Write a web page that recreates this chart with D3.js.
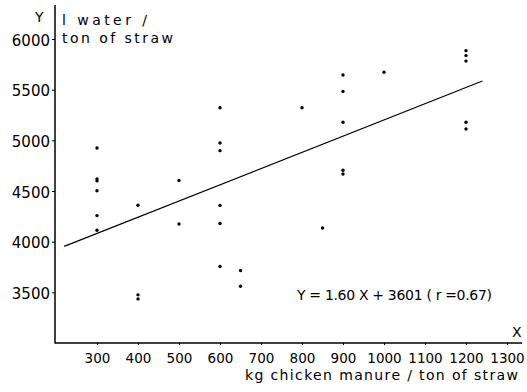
<!DOCTYPE html>
<html><head><meta charset="utf-8">
<script src="https://cdn.jsdelivr.net/npm/d3@7"></script>
<style>
html,body{margin:0;padding:0;background:#fff;}
text{font-family:"DejaVu Sans",sans-serif;fill:#000;}
</style></head>
<body>
<svg id="c" width="527" height="392"></svg>
<script>
// data: manure dose (kg / ton straw) and water use (l / ton straw)
const manureX = [300,300,300,300,300,300, 400,400,400, 500,500, 600,600,600,600,600,600, 650,650, 800, 850, 900,900,900,900,900, 1000, 1200,1200,1200,1200,1200];
const waterY  = [4925,4620,4600,4503,4257,4112, 4360,3475,3435, 4603,4175, 5322,4973,4898,4358,4180,3755, 3715,3560, 5322, 4135, 5645,5483,5178,4705,4668, 5672, 5885,5836,5782,5178,5112];
const xTicks = [300,400,500,600,700,800,900,1000,1100,1200,1300];
const yTicks = [3500,4000,4500,5000,5500,6000];
const fitSlope = 1.60, fitIntercept = 3601, fitR = 0.67;
const fitRange = [220, 1240];

const svg = d3.select("#c");
const x = d3.scaleLinear().domain([200,1300]).range([56,507]);
const y = d3.scaleLinear().domain([3000,6000]).range([343,39]);
const x0 = 55, y0 = 343;

// axes lines
svg.append("line").attr("x1",x0).attr("x2",x0).attr("y1",5).attr("y2",y0+0.5)
  .attr("stroke","#000").attr("stroke-width",1.5);
svg.append("line").attr("x1",x0).attr("x2",522).attr("y1",y0).attr("y2",y0)
  .attr("stroke","#000").attr("stroke-width",1.5);

// y ticks
const yAxis = d3.axisLeft(y).tickValues(yTicks).tickSize(3).tickPadding(2).tickFormat(d3.format("d"));
const gy = svg.append("g").attr("transform",`translate(${x0},0)`).call(yAxis);
gy.select(".domain").remove();
gy.selectAll("text").style("font-size","15px").style("font-family","DejaVu Sans, sans-serif").attr("dy","0.4em");

// x ticks
const xAxis = d3.axisBottom(x).tickValues(xTicks).tickSize(2).tickPadding(8).tickFormat(d3.format("d"));
const gx = svg.append("g").attr("transform",`translate(0,${y0})`).call(xAxis);
gx.select(".domain").remove();
gx.selectAll("text").style("font-size","13.5px").style("font-family","DejaVu Sans, sans-serif");

// regression line
const line = d3.line().x(d=>x(d)).y(d=>y(fitSlope*d+fitIntercept));
svg.append("path").attr("d",line(fitRange)).attr("fill","none").attr("stroke","#000").attr("stroke-width",1.2);

// points
svg.append("g").selectAll("circle").data(manureX.map((v,i)=>[v,waterY[i]])).join("circle")
  .attr("cx",d=>x(d[0])).attr("cy",d=>y(d[1])).attr("r",1.7).attr("fill","#000");

// labels
function lab(t, xx, yy, size, len, anchor){
  const e = svg.append("text").attr("x",xx).attr("y",yy).style("font-size",size+"px").text(t);
  if(len) e.attr("textLength",len).attr("lengthAdjust","spacing");
  if(anchor) e.attr("text-anchor",anchor);
  return e;
}
lab("Y", 35, 22, 14);
lab("l water /", 62, 25, 14, 85);
lab("ton of straw", 62, 43, 14, 111);
lab("X", 512, 337, 14);
lab("kg chicken manure / ton of straw", 245, 380, 14, 273);
lab(`Y = ${fitSlope.toFixed(2)} X + ${fitIntercept} ( r =${fitR})`, 297, 300, 14, 195);
</script>
</body></html>
